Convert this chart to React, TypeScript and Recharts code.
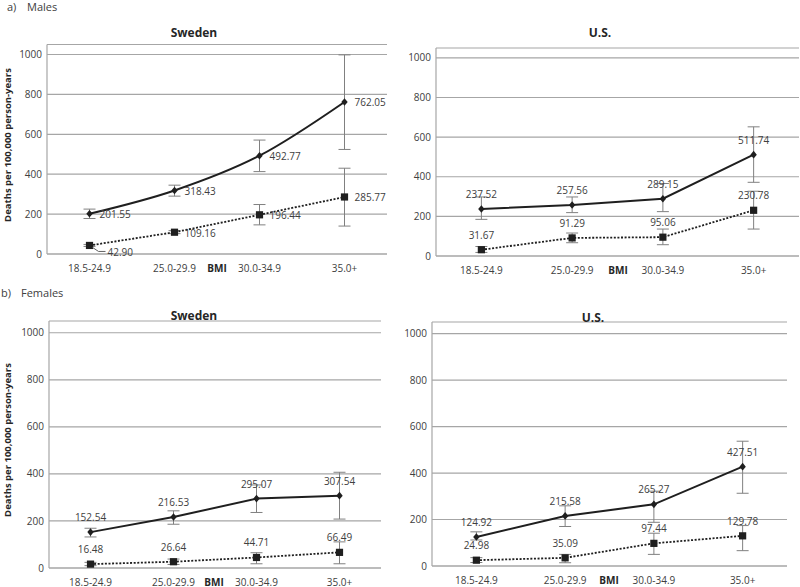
import React from 'react';
import { LineChart, Line, XAxis, YAxis, CartesianGrid, ErrorBar } from 'recharts';

const FONT = "'Open Sans', 'DejaVu Sans', sans-serif";
const TEXT = '#404040';
const GRID = '#a6a6a6';
const INK = '#1f1f1f';
const ERR = '#808080';

const bmiCategories = ['18.5-24.9', '25.0-29.9', '30.0-34.9', '35.0+'];
const yTicks = [0, 200, 400, 600, 800, 1000];

// a) Males – Sweden
const seMaleSolid = [201.55, 318.43, 492.77, 762.05];
const seMaleSolidLow = [178, 290, 413, 524];
const seMaleSolidHigh = [225, 345, 571, 998];
const seMaleDotted = [42.9, 109.16, 196.44, 285.77];
const seMaleDottedLow = [38, 102, 146, 140];
const seMaleDottedHigh = [48, 117, 248, 430];

// a) Males – U.S.
const usMaleSolid = [237.52, 257.56, 289.15, 511.74];
const usMaleSolidLow = [185, 219, 224, 372];
const usMaleSolidHigh = [298, 298, 366, 652];
const usMaleDotted = [31.67, 91.29, 95.06, 230.78];
const usMaleDottedLow = [18, 67, 57, 136];
const usMaleDottedHigh = [48, 116, 136, 327];

// b) Females – Sweden
const seFemaleSolid = [152.54, 216.53, 295.07, 307.54];
const seFemaleSolidLow = [132, 186, 236, 208];
const seFemaleSolidHigh = [169, 243, 353, 407];
const seFemaleDotted = [16.48, 26.64, 44.71, 66.49];
const seFemaleDottedLow = [10, 15, 18, 18];
const seFemaleDottedHigh = [24, 38, 65, 111];

// b) Females – U.S.
const usFemaleSolid = [124.92, 215.58, 265.27, 427.51];
const usFemaleSolidLow = [112, 170, 188, 313];
const usFemaleSolidHigh = [147, 259, 322, 537];
const usFemaleDotted = [24.98, 35.09, 97.44, 129.78];
const usFemaleDottedLow = [15, 14, 50, 66];
const usFemaleDottedHigh = [36, 50, 141, 174];

type Row = {
  bmi: string;
  solid: number;
  solidErr: [number, number];
  dotted: number;
  dottedErr: [number, number];
};

function buildData(
  s: number[], sl: number[], sh: number[],
  d: number[], dl: number[], dh: number[]
): Row[] {
  return bmiCategories.map((bmi, i) => ({
    bmi,
    solid: s[i],
    solidErr: [s[i] - sl[i], sh[i] - s[i]],
    dotted: d[i],
    dottedErr: [d[i] - dl[i], dh[i] - d[i]],
  }));
}

const seMaleData = buildData(seMaleSolid, seMaleSolidLow, seMaleSolidHigh, seMaleDotted, seMaleDottedLow, seMaleDottedHigh);
const usMaleData = buildData(usMaleSolid, usMaleSolidLow, usMaleSolidHigh, usMaleDotted, usMaleDottedLow, usMaleDottedHigh);
const seFemaleData = buildData(seFemaleSolid, seFemaleSolidLow, seFemaleSolidHigh, seFemaleDotted, seFemaleDottedLow, seFemaleDottedHigh);
const usFemaleData = buildData(usFemaleSolid, usFemaleSolidLow, usFemaleSolidHigh, usFemaleDotted, usFemaleDottedLow, usFemaleDottedHigh);

type Mode = 'right' | 'above';

const labelStyle = { fontFamily: FONT, fontSize: 10, fill: TEXT } as const;

function makeDot(kind: 'solid' | 'dotted', mode: Mode) {
  return (props: any) => {
    const { cx, cy, index, payload } = props;
    if (cx == null || cy == null) return <g key={`e-${kind}-${index}`} />;
    const v: number = payload[kind];
    const txt = v.toFixed(2);
    const marker =
      kind === 'solid' ? (
        <polygon
          points={`${cx},${cy - 3.8} ${cx + 3.2},${cy} ${cx},${cy + 3.8} ${cx - 3.2},${cy}`}
          fill={INK}
        />
      ) : (
        <rect x={cx - 3.6} y={cy - 3.6} width={7.2} height={7.2} fill={INK} />
      );
    let label: React.ReactNode;
    if (mode === 'right') {
      if (kind === 'dotted' && index === 0) {
        label = (
          <g>
            <polyline
              points={`${cx + 3},${cy + 2} ${cx + 9},${cy + 6} ${cx + 16},${cy + 6}`}
              fill="none"
              stroke="#606060"
              strokeWidth={1}
            />
            <text x={cx + 18} y={cy + 7} dy="0.35em" textAnchor="start" {...labelStyle}>{txt}</text>
          </g>
        );
      } else {
        label = (
          <text x={cx + 10} y={cy + 1} dy="0.35em" textAnchor="start" {...labelStyle}>{txt}</text>
        );
      }
    } else {
      label = (
        <text x={cx} y={cy - 14.5} dy="0.35em" textAnchor="middle" {...labelStyle}>{txt}</text>
      );
    }
    return (
      <g key={`d-${kind}-${index}`}>
        {marker}
        {label}
      </g>
    );
  };
}

const XTick = (props: any) => {
  const { x, y, payload } = props;
  return (
    <text x={x} y={y + 14} dy="0.35em" textAnchor="middle" fontFamily={FONT} fontSize={10} fill={TEXT}>
      {payload.value}
    </text>
  );
};

type PanelProps = {
  left: number;
  top: number;
  width: number;
  height: number;
  plotLeft: number;
  plotRight: number;
  plotTop: number;
  plotBottom: number;
  data: Row[];
  mode: Mode;
  smooth: boolean;
};

function Panel({ left, top, width, height, plotLeft, plotRight, plotTop, plotBottom, data, mode, smooth }: PanelProps) {
  return (
    <div style={{ position: 'absolute', left, top, width, height }}>
      <LineChart
        width={width}
        height={height}
        data={data}
        margin={{ top: plotTop, right: width - plotRight, bottom: 0, left: 0 }}
      >
        <CartesianGrid vertical={false} stroke={GRID} strokeWidth={1.2} />
        <XAxis
          dataKey="bmi"
          scale="band"
          height={height - plotBottom}
          tickLine={false}
          tickSize={0}
          tickMargin={0}
          interval={0}
          axisLine={{ stroke: GRID, strokeWidth: 1.2 }}
          tick={<XTick />}
        />
        <YAxis
          width={plotLeft}
          domain={[0, 1050]}
          ticks={yTicks}
          tickLine={false}
          tickSize={0}
          tickMargin={5}
          axisLine={{ stroke: GRID, strokeWidth: 1.2 }}
          tick={{ fill: TEXT, fontSize: 10, fontFamily: FONT }}
        />
        <Line
          type="linear"
          dataKey="dotted"
          stroke={INK}
          strokeWidth={1.8}
          strokeDasharray="2 1.6"
          dot={makeDot('dotted', mode)}
          activeDot={false}
          isAnimationActive={false}
        >
          <ErrorBar dataKey="dottedErr" direction="y" width={6} stroke={ERR} strokeWidth={1} />
        </Line>
        <Line
          type={smooth ? 'monotone' : 'linear'}
          dataKey="solid"
          stroke={INK}
          strokeWidth={2}
          dot={makeDot('solid', mode)}
          activeDot={false}
          isAnimationActive={false}
        >
          <ErrorBar dataKey="solidErr" direction="y" width={6} stroke={ERR} strokeWidth={1} />
        </Line>
      </LineChart>
    </div>
  );
}

const titleStyle = { fontFamily: FONT, fontSize: 12, fontWeight: 700, fill: '#262626' } as const;
const bmiStyle = { fontFamily: FONT, fontSize: 10, fontWeight: 700, fill: '#262626' } as const;
const panelStyle = { fontFamily: FONT, fontSize: 11, fill: TEXT } as const;
const yLabStyle = { fontFamily: FONT, fontSize: 9.5, fontWeight: 700, fill: '#262626' } as const;

export default function App() {
  return (
    <div
      style={{
        position: 'absolute',
        left: 0,
        top: 0,
        width: 800,
        height: 587,
        overflow: 'hidden',
        background: '#ffffff',
      }}
    >
      <Panel left={0} top={0} width={400} height={280} plotLeft={47} plotRight={387} plotTop={44.5} plotBottom={254} data={seMaleData} mode="right" smooth={true} />
      <Panel left={400} top={0} width={400} height={280} plotLeft={36} plotRight={399} plotTop={48} plotBottom={256} data={usMaleData} mode="above" smooth={false} />
      <Panel left={0} top={280} width={400} height={307} plotLeft={49} plotRight={381} plotTop={41} plotBottom={288} data={seFemaleData} mode="above" smooth={false} />
      <Panel left={400} top={280} width={400} height={307} plotLeft={32} plotRight={387} plotTop={42} plotBottom={286} data={usFemaleData} mode="above" smooth={false} />
      <svg
        width={800}
        height={587}
        style={{ position: 'absolute', left: 0, top: 0, pointerEvents: 'none' }}
      >
        <text x={7} y={11} {...panelStyle}>a)</text>
        <text x={27} y={11} {...panelStyle}>Males</text>
        <text x={1} y={297} {...panelStyle}>b)</text>
        <text x={21} y={297} {...panelStyle}>Females</text>

        <text x={194} y={37} textAnchor="middle" {...titleStyle}>Sweden</text>
        <text x={600} y={37} textAnchor="middle" {...titleStyle}>U.S.</text>
        <text x={194} y={320} textAnchor="middle" {...titleStyle}>Sweden</text>
        <text x={593} y={322} textAnchor="middle" {...titleStyle}>U.S.</text>

        <text x={217} y={268} dy="0.35em" textAnchor="middle" {...bmiStyle}>BMI</text>
        <text x={618} y={270} dy="0.35em" textAnchor="middle" {...bmiStyle}>BMI</text>
        <text x={214} y={582} dy="0.35em" textAnchor="middle" {...bmiStyle}>BMI</text>
        <text x={609} y={580} dy="0.35em" textAnchor="middle" {...bmiStyle}>BMI</text>

        <text x={8} y={145} dy="0.35em" textAnchor="middle" transform="rotate(-90 8 145)" {...yLabStyle}>
          Deaths per 100,000 person-years
        </text>
        <text x={8} y={440} dy="0.35em" textAnchor="middle" transform="rotate(-90 8 440)" {...yLabStyle}>
          Deaths per 100,000 person-years
        </text>
      </svg>
    </div>
  );
}
